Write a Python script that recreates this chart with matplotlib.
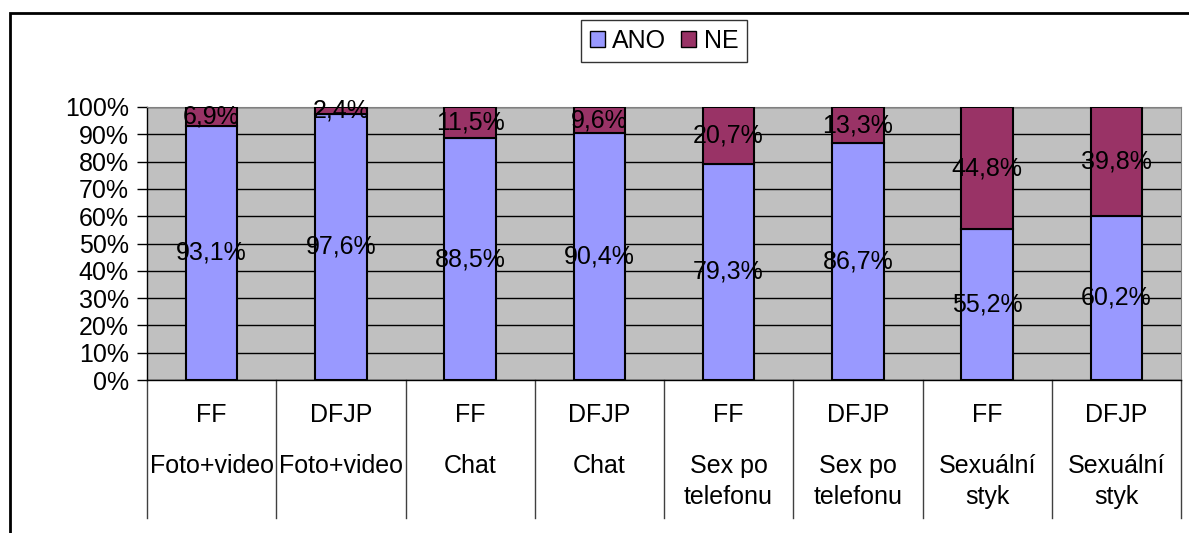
import matplotlib.pyplot as plt
from matplotlib.patches import Rectangle, Patch
import numpy as np

plt.rcParams['font.family'] = ['Liberation Sans', 'DejaVu Sans']

# data
groups = ['FF', 'DFJP', 'FF', 'DFJP', 'FF', 'DFJP', 'FF', 'DFJP']
topics = ['Foto+video', 'Foto+video', 'Chat', 'Chat', 'Sex po\ntelefonu', 'Sex po\ntelefonu',
          'Sexuální\nstyk', 'Sexuální\nstyk']
ano = [93.1, 97.6, 88.5, 90.4, 79.3, 86.7, 55.2, 60.2]
ne = [6.9, 2.4, 11.5, 9.6, 20.7, 13.3, 44.8, 39.8]

ano_color = '#9999FF'
ne_color = '#993366'
fs = 18

fig = plt.figure(figsize=(11.89, 5.33), dpi=100)
ax = fig.add_axes([147/1189, 1 - 380/533, 1034/1189, 273/533])
ax.set_facecolor('#C0C0C0')

x = np.arange(len(ano))
ano_frac = np.array(ano) / 100
ne_frac = np.array(ne) / 100

ax.bar(x, ano_frac, width=0.4, color=ano_color, edgecolor='black', linewidth=1.5, zorder=3)
ax.bar(x, ne_frac, width=0.4, bottom=ano_frac, color=ne_color, edgecolor='black', linewidth=1.5, zorder=3)

# data labels centred in each segment
for i in range(len(x)):
    ax.text(x[i], ano_frac[i] / 2, ('%.1f%%' % ano[i]).replace('.', ','),
            ha='center', va='center', fontsize=fs, zorder=4)
    ax.text(x[i], ano_frac[i] + ne_frac[i] / 2, ('%.1f%%' % ne[i]).replace('.', ','),
            ha='center', va='center', fontsize=fs, zorder=4)

ax.set_xlim(-0.5, len(x) - 0.5)
ax.set_ylim(0, 1)
ax.set_yticks(np.arange(0, 1.01, 0.1))
ax.set_yticklabels(['%d%%' % v for v in range(0, 101, 10)], fontsize=fs)
ax.yaxis.grid(True, color='black', linewidth=1, zorder=1)
ax.set_axisbelow(True)
ax.tick_params(axis='y', direction='out', length=7, width=1, pad=6)
ax.set_xticks([])

for s in ['top', 'right']:
    ax.spines[s].set_color('#808080')
ax.spines['bottom'].set_visible(False)
ax.spines['left'].set_linewidth(1)

# category axis with two label rows and separators
for i in range(len(x) + 1):
    ax.plot([i - 0.5, i - 0.5], [0, -0.505], color='#404040', linewidth=1, clip_on=False)
for i in range(len(x)):
    ax.text(x[i], -0.128, groups[i], ha='center', va='center', fontsize=fs)
    ax.text(x[i], -0.27, topics[i], ha='center', va='top', fontsize=fs, linespacing=1.4)
ax.plot([-0.5, len(x) - 0.5], [0, 0], color='black', linewidth=1, clip_on=False, zorder=5)

# legend
handles = [Patch(facecolor=ano_color, edgecolor='black', label='ANO'),
           Patch(facecolor=ne_color, edgecolor='black', label='NE')]
leg = fig.legend(handles=handles, loc='center', bbox_to_anchor=(664/1189, 1 - 41/533),
                 ncol=2, fontsize=fs, frameon=True, fancybox=False, edgecolor='black',
                 handlelength=0.6, handleheight=0.6, handletextpad=0.3, columnspacing=0.6,
                 borderpad=0.35)
leg.get_frame().set_linewidth(1)

# outer chart border
fig.patches.append(Rectangle((10/1189, -0.2), 1.2, 1.2 - 13/533, transform=fig.transFigure,
                             fill=False, edgecolor='black', linewidth=2))

fig.savefig('out.png', dpi=100)
